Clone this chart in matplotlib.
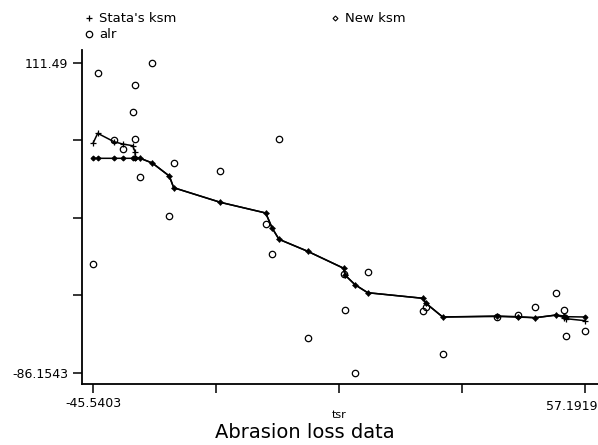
import numpy as np
import matplotlib.pyplot as plt
from matplotlib.lines import Line2D

plt.rcParams['font.family'] = ['DejaVu Sans']

tsr = [-45.54, -44.62, -41.22, -39.40, -37.31, -36.83, -36.77, -35.73, -33.22, -29.67,
       -28.75, -19.02, -9.54, -8.16, -6.76, -0.77, 6.75, 7.02, 9.11, 11.76,
       23.31, 23.93, 27.42, 38.82, 43.21, 46.76, 51.14, 52.69, 53.17, 57.19]
alr = [-16.66, 104.73, 62.21, 56.66, 79.87, 97.27, 63.04, 38.81, 111.49, 13.75,
       47.73, 42.25, 8.65, -10.28, 62.65, -64.03, -23.42, -46.37, -86.15, -21.95,
       -46.62, -44.46, -74.55, -50.64, -49.56, -44.07, -35.34, -46.37, -62.94, -59.37]
new_ksm = [50.54, 50.54, 50.54, 50.54, 50.54, 50.54, 50.54, 50.54, 47.54, 39.25,
           31.80, 22.49, 15.67, 5.91, -1.10, -8.75, -19.59, -23.86, -30.05, -35.15,
           -38.72, -41.91, -50.64, -50.0, -50.45, -51.09, -49.36, -50.0, -50.45, -50.64]
stata_ksm = [60.49, 66.48, 61.12, 59.66, 58.57, 54.75, 51.4, 50.54, 47.54, 39.25,
             31.80, 22.49, 15.67, 5.91, -1.10, -8.75, -19.59, -23.86, -30.05, -35.15,
             -38.72, -41.91, -50.64, -50.3, -50.7, -51.1, -49.4, -50.96, -51.72, -53.0]

xmin, xmax = -45.5403, 57.1919
ymin, ymax = -86.1543, 111.49

fig = plt.figure(figsize=(5.98, 4.45), dpi=100)
ax = fig.add_axes([81.7 / 598, 1 - 384 / 445, 1 - 81.7 / 598, (384 - 50) / 445])

ax.plot(tsr, stata_ksm, color='black', lw=1.1, marker='+', ms=5, mew=0.9)
ax.plot(tsr, new_ksm, color='black', lw=1.1, marker='D', ms=2.5, mfc='black', mew=0.8)
ax.plot(tsr, alr, ls='none', marker='o', ms=4.6, mfc='none', mec='black', mew=0.9)

ax.set_xlim(-47.96, 59.85)
ax.set_ylim(-93.36, 119.6)

xt = np.linspace(xmin, xmax, 5)
yt = np.linspace(ymin, ymax, 5)
ax.set_xticks(xt)
ax.set_xticklabels(['-45.5403', '', '', '', ''])
ax.set_yticks(yt)
ax.set_yticklabels(['-86.1543', '', '', '', '111.49'])
ax.tick_params(direction='out', length=6.5, width=1.1, labelsize=9, colors='black', pad=3)
# right end label pulled in so it stays inside the figure
ax.annotate('57.1919', xy=(xmax, 0), xycoords=('data', 'axes fraction'),
            xytext=(9, -11.5), textcoords='offset points', ha='right', va='top', fontsize=9)

for s in ['top', 'right']:
    ax.spines[s].set_visible(False)
for s in ['left', 'bottom']:
    ax.spines[s].set_linewidth(1.3)

handles = [
    Line2D([], [], ls='none', marker='+', ms=5, mew=0.9, color='black'),
    Line2D([], [], ls='none', marker='o', ms=4.6, mfc='none', mec='black', mew=0.9),
    Line2D([], [], ls='none', marker='D', ms=2.5, mfc='white', mec='black', mew=0.8),
]
labels = ["Stata's ksm", 'alr', 'New ksm']
fig.legend(handles, labels, ncol=2, loc='upper left', bbox_to_anchor=(78 / 598, 1 - 7 / 445),
           frameon=False, fontsize=9.5, handlelength=0.8, handletextpad=0.4,
           columnspacing=11.6, labelspacing=0.22, borderaxespad=0)

fig.text(339 / 598, 1 - 415 / 445, 'tsr', ha='center', va='center', fontsize=8)
fig.text(305 / 598, 1 - 433 / 445, 'Abrasion loss data', ha='center', va='center', fontsize=14)

fig.savefig('out.png', dpi=100)
